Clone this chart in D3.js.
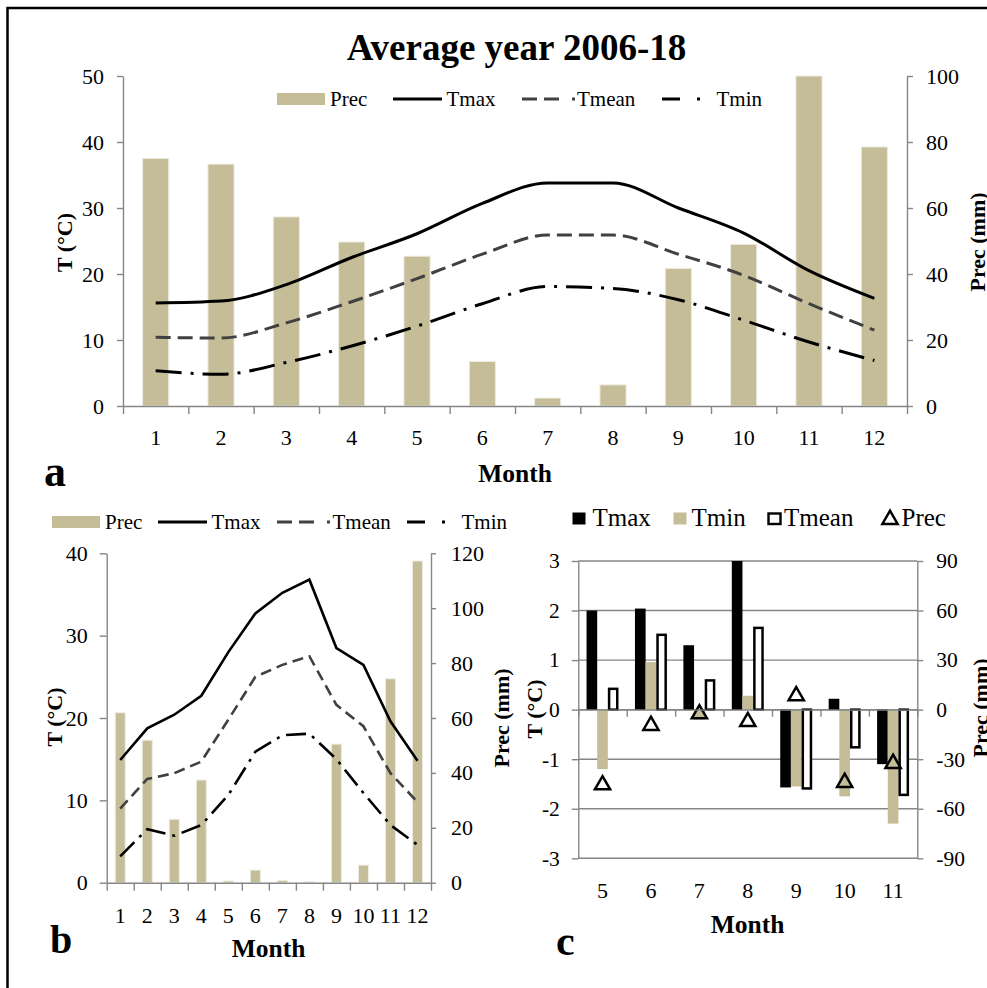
<!DOCTYPE html>
<html>
<head>
<meta charset="utf-8">
<script src="https://cdn.jsdelivr.net/npm/d3@7"></script>
<style>
  body { margin: 0; background: #fff; }
  svg text { font-family: "Liberation Serif", "Times New Roman", serif; }
</style>
</head>
<body>
<svg id="fig" width="987" height="988"></svg>
<script>
// ---- panel a : average year 2006-18 ----
var monthsA = [1, 2, 3, 4, 5, 6, 7, 8, 9, 10, 11, 12];
var precA  = [75, 73.3, 57.3, 49.7, 45.4, 13.5, 2.4, 6.4, 41.7, 49, 100, 78.5];
var tmaxA  = [15.6, 15.9, 18.4, 22.5, 26.1, 30.7, 33.8, 33.8, 30.0, 26.2, 20.5, 16.3];
var tmeanA = [10.4, 10.3, 12.6, 15.8, 19.3, 23.0, 25.9, 25.9, 23.0, 19.8, 15.5, 11.5];
var tminA  = [5.35, 4.8, 6.6, 9.1, 12.1, 15.5, 18.1, 17.8, 16.1, 13.0, 9.7, 6.9];
var tTicksA = [0, 10, 20, 30, 40, 50];
var pTicksA = [0, 20, 40, 60, 80, 100];

// ---- panel b ----
var monthsB = [1, 2, 3, 4, 5, 6, 7, 8, 9, 10, 11, 12];
var precB  = [61.9, 51.9, 23.1, 37.4, 0.6, 4.6, 0.8, 0.3, 50.5, 6.4, 74.3, 117.2];
var tmaxB  = [14.9, 18.75, 20.4, 22.7, 28.0, 32.7, 35.2, 36.8, 28.5, 26.45, 19.6, 14.8];
var tmeanB = [9.0, 12.6, 13.3, 14.7, 19.8, 25.0, 26.45, 27.5, 21.6, 19.0, 13.3, 9.8];
var tminB  = [3.2, 6.5, 5.7, 7.0, 10.65, 15.9, 17.9, 18.1, 15.0, 10.9, 7.0, 4.6];
var tTicksB = [0, 10, 20, 30, 40];
var pTicksB = [0, 20, 40, 60, 80, 100, 120];

// ---- panel c : anomalies ----
var monthsC = [5, 6, 7, 8, 9, 10, 11];
var tmaxC  = [2.0, 2.04, 1.3, 3.0, -1.57, 0.22, -1.1];
var tminC  = [-1.2, 0.96, -0.2, 0.28, -1.55, -1.75, -2.3];
var tmeanC = [0.42, 1.51, 0.59, 1.65, -1.59, -0.76, -1.72];
var precC  = [-45, -9, -2, -6.7, 9, -43.5, -32];
var tTicksC = [-3, -2, -1, 0, 1, 2, 3];
var pTicksC = [-90, -60, -30, 0, 30, 60, 90];

var tan = "#C4BD97", grey = "#868686", dark = "#404040";
var serif = "'Liberation Serif', 'Times New Roman', serif";
var plain = function (d) { return String(d); };   // hyphen minus like the original

var svg = d3.select("#fig");

// outer frame (cut by right/bottom edge like the original)
svg.append("rect")
    .attr("x", 7.5).attr("y", 8)
    .attr("width", 1000).attr("height", 1000)
    .attr("fill", "none").attr("stroke", "#000").attr("stroke-width", 2.5);

function styleAxis(g, size) {
    g.attr("font-family", serif)
     .attr("font-size", size)
     .attr("color", "#000");
    g.selectAll("text").style("font-family", serif).style("font-size", size + "px");
    g.selectAll("path, line").attr("stroke", grey).attr("stroke-width", 1.4);
    return g;
}

function addText(x, y, txt, size, opts) {
    opts = opts || {};
    var t = svg.append("text")
        .attr("x", x).attr("y", y)
        .attr("font-size", size)
        .attr("font-weight", opts.bold ? "bold" : "normal")
        .attr("text-anchor", opts.anchor || "start")
        .text(txt);
    return t;
}

function addVTitle(x, y, txt, size) {
    svg.append("text")
        .attr("transform", "translate(" + x + "," + y + ") rotate(-90)")
        .attr("text-anchor", "middle")
        .attr("font-size", size)
        .attr("font-weight", "bold")
        .text(txt);
}

// =================== PANEL A ===================
(function () {
    var left = 123, right = 907, top = 76, bottom = 406;
    var x = d3.scaleBand().domain(monthsA).range([left, right]);
    var xEdge = d3.scaleLinear().domain([0, monthsA.length]).range([left, right]);
    var yT = d3.scaleLinear().domain([0, 50]).range([bottom, top]);
    var yP = d3.scaleLinear().domain([0, 100]).range([bottom, top]);
    var bw = x.bandwidth();

    // bars
    svg.append("g").selectAll("rect")
        .data(precA)
      .enter().append("rect")
        .attr("x", function (d, i) { return x(monthsA[i]) + bw * 0.3; })
        .attr("y", function (d) { return yP(d); })
        .attr("width", bw * 0.4)
        .attr("height", function (d) { return yP(0) - yP(d); })
        .attr("fill", tan)
        .attr("stroke", "#EEECE1").attr("stroke-width", 1);

    var line = d3.line()
        .x(function (d, i) { return x(monthsA[i]) + bw / 2; })
        .y(function (d) { return yT(d); })
        .curve(d3.curveMonotoneX);

    svg.append("path").datum(tmaxA).attr("d", line)
        .attr("fill", "none").attr("stroke", "#000").attr("stroke-width", 3);
    svg.append("path").datum(tmeanA).attr("d", line)
        .attr("fill", "none").attr("stroke", dark).attr("stroke-width", 3)
        .attr("stroke-dasharray", "15,7");
    svg.append("path").datum(tminA).attr("d", line)
        .attr("fill", "none").attr("stroke", "#000").attr("stroke-width", 3)
        .attr("stroke-dasharray", "26,9,3,9");

    // axes
    styleAxis(svg.append("g").attr("transform", "translate(" + left + ",0)")
        .call(d3.axisLeft(yT).tickValues(tTicksA).tickFormat(plain).tickSize(6).tickSizeOuter(0).tickPadding(13)), 22);
    styleAxis(svg.append("g").attr("transform", "translate(" + right + ",0)")
        .call(d3.axisRight(yP).tickValues(pTicksA).tickFormat(plain).tickSize(6).tickSizeOuter(0).tickPadding(13)), 22);
    styleAxis(svg.append("g").attr("transform", "translate(0," + bottom + ")")
        .call(d3.axisBottom(xEdge).tickValues(d3.range(0, monthsA.length + 1)).tickFormat("").tickSize(8).tickSizeOuter(0)), 22);
    var lab = styleAxis(svg.append("g").attr("transform", "translate(0," + bottom + ")")
        .call(d3.axisBottom(x).tickSize(0).tickPadding(23)), 22);
    lab.select(".domain").remove();

    // titles
    addText(516.5, 59.5, "Average year 2006-18", 37, {bold: true, anchor: "middle"});
    addText(515, 482, "Month", 25.5, {bold: true, anchor: "middle"});
    addVTitle(72, 242.5, "T (°C)", 22);
    addVTitle(985, 242, "Prec (mm)", 22);
    addText(44, 486, "a", 44, {bold: true});

    // legend
    var ly = 99;
    svg.append("rect").attr("x", 277).attr("y", 93).attr("width", 48).attr("height", 12).attr("fill", tan);
    addText(330, 106, "Prec", 21);
    svg.append("line").attr("x1", 393).attr("x2", 442).attr("y1", ly).attr("y2", ly)
        .attr("stroke", "#000").attr("stroke-width", 3);
    addText(446.5, 106, "Tmax", 21);
    svg.append("line").attr("x1", 522).attr("x2", 576).attr("y1", ly).attr("y2", ly)
        .attr("stroke", dark).attr("stroke-width", 3).attr("stroke-dasharray", "15,7,15,13,3,20");
    addText(577, 106, "Tmean", 21);
    svg.append("line").attr("x1", 662).attr("x2", 700).attr("y1", ly).attr("y2", ly)
        .attr("stroke", "#000").attr("stroke-width", 3).attr("stroke-dasharray", "18,17,3,20");
    addText(716.5, 106, "Tmin", 21);
})();

// =================== PANEL B ===================
(function () {
    var left = 106.7, right = 431, top = 553.3, bottom = 882.7;
    var x = d3.scaleBand().domain(monthsB).range([left, right]);
    var xEdge = d3.scaleLinear().domain([0, monthsB.length]).range([left, right]);
    var yT = d3.scaleLinear().domain([0, 40]).range([bottom, top]);
    var yP = d3.scaleLinear().domain([0, 120]).range([bottom, top]);
    var bw = x.bandwidth();

    svg.append("g").selectAll("rect")
        .data(precB)
      .enter().append("rect")
        .attr("x", function (d, i) { return x(monthsB[i]) + bw * 0.315; })
        .attr("y", function (d) { return yP(d); })
        .attr("width", bw * 0.37)
        .attr("height", function (d) { return yP(0) - yP(d); })
        .attr("fill", tan)
        .attr("stroke", "#EEECE1").attr("stroke-width", 1);

    var line = d3.line()
        .x(function (d, i) { return x(monthsB[i]) + bw / 2; })
        .y(function (d) { return yT(d); });

    svg.append("path").datum(tmaxB).attr("d", line)
        .attr("fill", "none").attr("stroke", "#000").attr("stroke-width", 2.6);
    svg.append("path").datum(tmeanB).attr("d", line)
        .attr("fill", "none").attr("stroke", dark).attr("stroke-width", 2.6)
        .attr("stroke-dasharray", "11,6");
    svg.append("path").datum(tminB).attr("d", line)
        .attr("fill", "none").attr("stroke", "#000").attr("stroke-width", 2.6)
        .attr("stroke-dasharray", "20,7,3,7");

    styleAxis(svg.append("g").attr("transform", "translate(" + left + ",0)")
        .call(d3.axisLeft(yT).tickValues(tTicksB).tickFormat(plain).tickSize(7).tickSizeOuter(0).tickPadding(12)), 22);
    styleAxis(svg.append("g").attr("transform", "translate(" + right + ",0)")
        .call(d3.axisRight(yP).tickValues(pTicksB).tickFormat(plain).tickSize(5).tickSizeOuter(0).tickPadding(15)), 22);
    styleAxis(svg.append("g").attr("transform", "translate(0," + bottom + ")")
        .call(d3.axisBottom(xEdge).tickValues(d3.range(0, monthsB.length + 1)).tickFormat("").tickSize(8).tickSizeOuter(0)), 22);
    var lab = styleAxis(svg.append("g").attr("transform", "translate(0," + bottom + ")")
        .call(d3.axisBottom(x).tickSize(0).tickPadding(25)), 22);
    lab.select(".domain").remove();

    addText(268.5, 957, "Month", 25.5, {bold: true, anchor: "middle"});
    addVTitle(62, 717, "T (°C)", 22);
    addVTitle(509, 718, "Prec (mm)", 22);
    addText(50, 953, "b", 40, {bold: true});

    // legend
    var ly = 522;
    svg.append("rect").attr("x", 52).attr("y", 516).attr("width", 48).attr("height", 12).attr("fill", tan);
    addText(105, 528.5, "Prec", 21);
    svg.append("line").attr("x1", 158).attr("x2", 207).attr("y1", ly).attr("y2", ly)
        .attr("stroke", "#000").attr("stroke-width", 3);
    addText(211.5, 528.5, "Tmax", 21);
    svg.append("line").attr("x1", 277).attr("x2", 331).attr("y1", ly).attr("y2", ly)
        .attr("stroke", dark).attr("stroke-width", 3).attr("stroke-dasharray", "15,7,15,13,3,20");
    addText(332.5, 528.5, "Tmean", 21);
    svg.append("line").attr("x1", 407).attr("x2", 445).attr("y1", ly).attr("y2", ly)
        .attr("stroke", "#000").attr("stroke-width", 3).attr("stroke-dasharray", "18,17,3,20");
    addText(461.5, 528.5, "Tmin", 21);
})();

// =================== PANEL C ===================
(function () {
    var left = 578.3, right = 917.3, top = 561, bottom = 858.3;
    var keys = ["Tmax", "Tmin", "Tmean"];
    var x0 = d3.scaleBand().domain(monthsC).range([left, right]);
    var xEdge = d3.scaleLinear().domain([0, monthsC.length]).range([left, right]);
    var bw = x0.bandwidth();
    var x1 = d3.scaleBand().domain(keys).range([bw * 0.17, bw * 0.83]);
    var yT = d3.scaleLinear().domain([-3, 3]).range([bottom, top]);
    var yP = d3.scaleLinear().domain([-90, 90]).range([bottom, top]);

    // gridlines
    svg.append("g").selectAll("line")
        .data(tTicksC)
      .enter().append("line")
        .attr("x1", left).attr("x2", right)
        .attr("y1", function (d) { return yT(d); })
        .attr("y2", function (d) { return yT(d); })
        .attr("stroke", grey).attr("stroke-width", 1.4);

    var rows = monthsC.map(function (m, i) {
        return {month: m, Tmax: tmaxC[i], Tmin: tminC[i], Tmean: tmeanC[i]};
    });
    var bars = svg.append("g").selectAll("g")
        .data(rows)
      .enter().append("g")
        .attr("transform", function (d) { return "translate(" + x0(d.month) + ",0)"; });
    var bwi = x1.bandwidth();
    bars.selectAll("rect")
        .data(function (d) { return keys.map(function (k) { return {key: k, value: d[k]}; }); })
      .enter().append("rect")
        .attr("x", function (d) { return d.key === "Tmean" ? x1(d.key) + 1.25 : x1(d.key); })
        .attr("width", function (d) { return d.key === "Tmean" ? bwi - 2.5 : bwi; })
        .attr("y", function (d) { return yT(Math.max(0, d.value)); })
        .attr("height", function (d) { return Math.abs(yT(d.value) - yT(0)); })
        .attr("fill", function (d) { return d.key === "Tmax" ? "#000" : d.key === "Tmin" ? tan : "#fff"; })
        .attr("stroke", function (d) { return d.key === "Tmean" ? "#000" : "none"; })
        .attr("stroke-width", 2.5);

    // precipitation anomaly markers
    var tri = d3.symbol().type(d3.symbolTriangle).size(100);
    svg.append("g").selectAll("path")
        .data(precC)
      .enter().append("path")
        .attr("d", tri)
        .attr("transform", function (d, i) { return "translate(" + (x0(monthsC[i]) + bw / 2) + "," + (yP(d) + 1) + ")"; })
        .attr("fill", "none").attr("stroke", "#000").attr("stroke-width", 2.5);

    // axes
    styleAxis(svg.append("g").attr("transform", "translate(" + left + ",0)")
        .call(d3.axisLeft(yT).tickValues(tTicksC).tickFormat(plain).tickSize(6.5).tickSizeOuter(0).tickPadding(12)), 21.5);
    styleAxis(svg.append("g").attr("transform", "translate(" + right + ",0)")
        .call(d3.axisRight(yP).tickValues(pTicksC).tickFormat(plain).tickSize(6).tickSizeOuter(0).tickPadding(13)), 21.5);
    styleAxis(svg.append("g").attr("transform", "translate(0," + yT(0) + ")")
        .call(d3.axisBottom(xEdge).tickValues(d3.range(0, monthsC.length + 1)).tickFormat("").tickSize(7).tickSizeOuter(0)), 22);
    var lab = styleAxis(svg.append("g").attr("transform", "translate(0," + bottom + ")")
        .call(d3.axisBottom(x0).tickSize(0).tickPadding(24)), 22);
    lab.select(".domain").remove();

    addText(747.5, 933, "Month", 25.5, {bold: true, anchor: "middle"});
    addVTitle(542, 709, "T (°C)", 22);
    addVTitle(987.5, 708, "Prec (mm)", 22);
    addText(556, 955, "c", 42, {bold: true});

    // legend
    svg.append("rect").attr("x", 572.5).attr("y", 512.5).attr("width", 13).attr("height", 12).attr("fill", "#000");
    addText(592.5, 526, "Tmax", 25);
    svg.append("rect").attr("x", 673.5).attr("y", 512.5).attr("width", 13).attr("height", 12).attr("fill", tan);
    addText(691.5, 526, "Tmin", 25);
    svg.append("rect").attr("x", 768.5).attr("y", 513.5).attr("width", 12).attr("height", 10.5)
        .attr("fill", "#fff").attr("stroke", "#000").attr("stroke-width", 2.4);
    addText(784, 526, "Tmean", 25);
    svg.append("path").attr("d", tri).attr("transform", "translate(890,519.5)")
        .attr("fill", "none").attr("stroke", "#000").attr("stroke-width", 2.5);
    addText(901.5, 526, "Prec", 25);
})();
</script>
</body>
</html>
